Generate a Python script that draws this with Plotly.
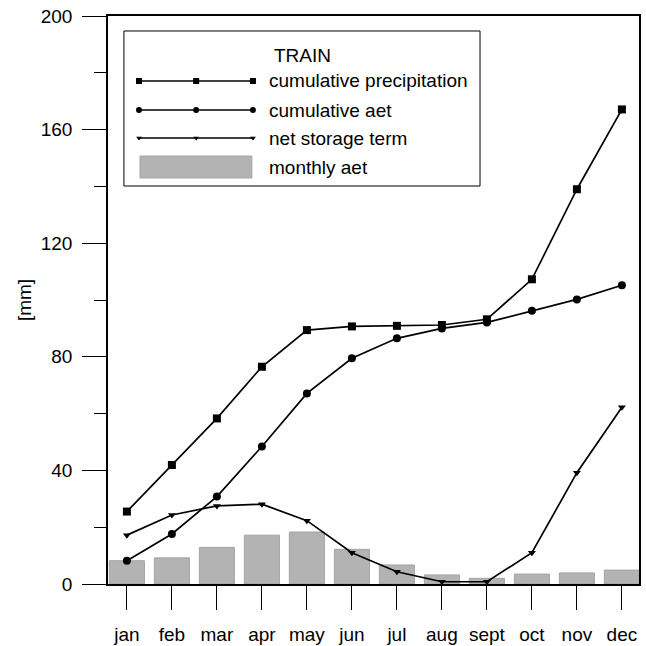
import plotly.graph_objects as go

months = ["jan", "feb", "mar", "apr", "may", "jun", "jul", "aug", "sept", "oct", "nov", "dec"]
cum_precip = [25.5, 41.9, 58.3, 76.5, 89.4, 90.7, 90.9, 91.2, 93.2, 107.3, 139.0, 167.1]
cum_aet = [8.2, 17.6, 30.8, 48.4, 67.1, 79.5, 86.5, 90.0, 92.1, 96.2, 100.2, 105.2]
net_storage = [17.2, 24.3, 27.5, 28.1, 22.3, 11.0, 4.3, 0.8, 0.8, 11.0, 39.2, 62.2]
monthly_aet = [8.2, 9.2, 12.9, 17.2, 18.3, 12.2, 6.7, 3.2, 2.0, 3.5, 3.9, 4.9]

legend_title = "TRAIN"
legend_names = ["cumulative precipitation", "cumulative aet", "net storage term", "monthly aet"]

FONT = "Liberation Sans, Arial, sans-serif"
FS = 19
BAR_COLOR = "#b3b3b3"

fig = go.Figure()

fig.add_trace(go.Bar(x=months, y=monthly_aet, marker=dict(color=BAR_COLOR, line=dict(color="#a5a5a5", width=1)),
                     name=legend_names[3], showlegend=False))
fig.add_trace(go.Scatter(x=months, y=cum_precip, mode="lines+markers", name=legend_names[0],
                         line=dict(color="black", width=1.7), marker=dict(symbol="square", size=8, color="black"),
                         showlegend=False))
fig.add_trace(go.Scatter(x=months, y=cum_aet, mode="lines+markers", name=legend_names[1],
                         line=dict(color="black", width=1.7), marker=dict(symbol="circle", size=8, color="black"),
                         showlegend=False))
fig.add_trace(go.Scatter(x=months, y=net_storage, mode="lines+markers", name=legend_names[2],
                         line=dict(color="black", width=1.7), marker=dict(symbol="triangle-down", size=7, color="black"),
                         showlegend=False))

# ---- hand-drawn legend (in an overlay axis spanning the plot area, 0..1) ----
leg_x0, leg_x1, leg_y0, leg_y1 = 0.030, 0.7006, 0.7007, 0.9736
row_y = [0.8856, 0.8345, 0.7852, 0.7324]
samp_x = [0.0584, 0.166, 0.273]
text_x = 0.2994
symbols = ["square", "circle", "triangle-down"]
sym_sizes = [6, 6, 5]

fig.add_shape(type="rect", xref="paper", yref="paper", x0=leg_x0, x1=leg_x1, y0=leg_y0, y1=leg_y1,
              line=dict(color="black", width=1), fillcolor="rgba(0,0,0,0)", layer="above")
for i in range(3):
    fig.add_trace(go.Scatter(x=samp_x, y=[row_y[i]] * 3, xaxis="x2", yaxis="y2", mode="lines+markers",
                             line=dict(color="black", width=1.5),
                             marker=dict(symbol=symbols[i], size=sym_sizes[i], color="black"),
                             showlegend=False, hoverinfo="skip"))
fig.add_shape(type="rect", xref="paper", yref="paper", x0=0.0603, x1=0.271, y0=0.7148, y1=0.7535,
              fillcolor=BAR_COLOR, line=dict(color="#a5a5a5", width=1), layer="above")
fig.add_annotation(x=0.367, y=0.931, xref="paper", yref="paper", text=legend_title, showarrow=False,
                   font=dict(family=FONT, size=FS, color="black"), xanchor="center", yanchor="middle")
for i, name in enumerate(legend_names):
    fig.add_annotation(x=text_x, y=row_y[i], xref="paper", yref="paper", text=name, showarrow=False,
                       font=dict(family=FONT, size=FS, color="black"), xanchor="left", yanchor="middle")

fig.update_layout(
    width=646, height=646,
    margin=dict(l=108, r=7, t=16, b=62),
    paper_bgcolor="white", plot_bgcolor="white",
    font=dict(family=FONT, size=FS, color="black"),
    bargap=0.22,
    showlegend=False,
    xaxis=dict(type="category", range=[-0.42, 11.38], showline=True, linecolor="black", linewidth=1.5,
               mirror=True, ticks="outside", ticklen=24, tickwidth=1.2, tickcolor="black", automargin=False,
               showgrid=False, zeroline=False, tickfont=dict(family=FONT, size=FS), ticklabelstandoff=8),
    yaxis=dict(range=[0, 200], dtick=40, showline=True, linecolor="black", linewidth=1.5, mirror=True,
               ticks="outside", ticklen=24, tickwidth=1.2, tickcolor="black", showgrid=False, zeroline=False,
               automargin=False,
               minor=dict(dtick=20, ticks="outside", ticklen=12, tickwidth=1.2, tickcolor="black", showgrid=False),
               title=dict(text="[mm]", standoff=4, font=dict(family=FONT, size=FS)),
               tickfont=dict(family=FONT, size=FS), ticklabelstandoff=6),
    xaxis2=dict(range=[0, 1], domain=[0, 1], overlaying="x", visible=False, anchor="y2"),
    yaxis2=dict(range=[0, 1], domain=[0, 1], overlaying="y", visible=False, anchor="x2"),
)

fig.write_html("out.html", config={"displayModeBar": False},
               post_script="document.body.style.margin='0px';")
